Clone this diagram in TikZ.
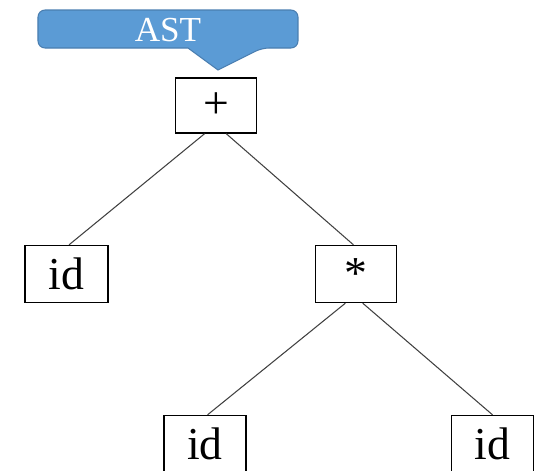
\documentclass[tikz,border=0pt]{standalone}
\usepackage{fontspec}
\setmainfont{Liberation Serif}
\usetikzlibrary{positioning}

\definecolor{calloutfill}{HTML}{5B9BD5}
\definecolor{calloutline}{HTML}{4A7EB0}

\tikzset{
    treebox/.style={draw=black, line width=0.8pt, fill=white, inner sep=0pt,
        minimum width=1.62cm, minimum height=1.14cm, font=\fontsize{26}{28}\selectfont},
    edge/.style={draw=black!75, line width=0.6pt}
}

\begin{document}
\begin{tikzpicture}[x=0.02cm, y=-0.02cm]

    % Rahmen
    \useasboundingbox (0,0) rectangle (539,471);

    % Sprechblase
    \draw[fill=calloutfill, draw=calloutline, line width=0.6pt, rounded corners=4pt]
        (38,10) -- (298,10) -- (298,48) -- (262,48)
        [sharp corners] -- (218,70) -- (188,48) [rounded corners=4pt] -- (38,48) -- cycle;
    \node[text=white, font=\fontsize{20}{22}\selectfont] (ast) at (168,30) {AST};

    % Knoten
    \node[treebox, minimum height=1.1cm] (plus) at (216,105.5) {+};
    \node[treebox, minimum width=1.66cm] (idl) at (66.5,274) {id};
    \node[treebox] (mul) at (356,274) {*};
    \node[treebox, minimum width=1.64cm] (idbl) at (205,444) {id};
    \node[treebox, minimum width=1.64cm] (idbr) at (492.5,444) {id};

    % Kanten
    \draw[edge] (plus.-112) -- (idl.85);
    \draw[edge] (plus.-70) -- (mul.95);
    \draw[edge] (mul.-110) -- (idbl.85);
    \draw[edge] (mul.-77) -- (idbr.90);

\end{tikzpicture}
\end{document}
